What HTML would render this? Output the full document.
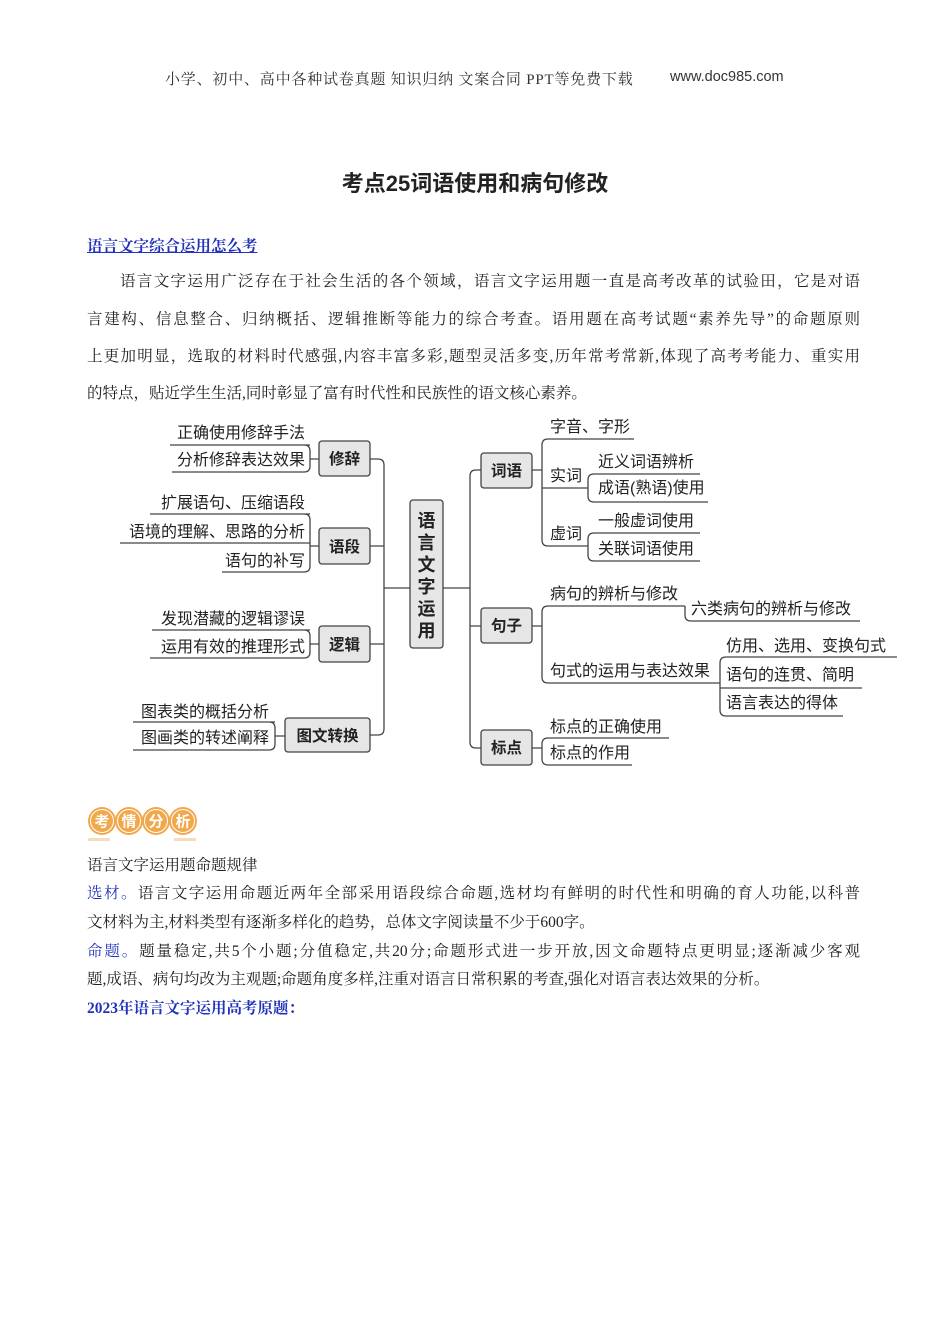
<!DOCTYPE html>
<html><head><meta charset="utf-8">
<style>
body{margin:0;background:#fff;}
#p{position:relative;width:950px;height:1344px;overflow:hidden;font-family:"Liberation Serif","Noto Serif CJK SC","Noto Sans CJK SC",serif;color:#222;}
.a{position:absolute;white-space:nowrap;}
.ln{position:absolute;left:87px;width:773px;font-size:15.5px;text-align:justify;text-align-last:justify;white-space:nowrap;}
.bl{color:#2233bb;}
svg text{font-family:"Liberation Sans","Noto Sans CJK SC",sans-serif;}
</style></head><body><div id="p">
<div class="a" style="left:165px;top:68px;font-size:15px;letter-spacing:0.8px;color:#333;">小学、初中、高中各种试卷真题&nbsp;知识归纳&nbsp;文案合同&nbsp;PPT等免费下载</div>
<div class="a" style="left:670px;top:69px;font-size:14.5px;color:#333;font-family:'Liberation Sans',sans-serif;">www.doc985.com</div>
<div class="a" style="left:0;width:950px;text-align:center;top:166px;font-size:22px;font-weight:bold;font-family:'Liberation Sans','Noto Sans CJK SC',sans-serif;">考点25词语使用和病句修改</div>
<div class="a bl" style="left:87px;top:234px;font-size:15.5px;font-weight:bold;text-decoration:underline;">语言文字综合运用怎么考</div>
<div class="ln" style="top:269px;left:120px;width:740px;">语言文字运用广泛存在于社会生活的各个领域，语言文字运用题一直是高考改革的试验田，它是对语</div>
<div class="ln" style="top:307px;">言建构、信息整合、归纳概括、逻辑推断等能力的综合考查。语用题在高考试题“素养先导”的命题原则</div>
<div class="ln" style="top:344px;">上更加明显，选取的材料时代感强,内容丰富多彩,题型灵活多变,历年常考常新,体现了高考考能力、重实用</div>
<div class="a" style="left:87px;top:381px;font-size:15.5px;">的特点，贴近学生生活,同时彰显了富有时代性和民族性的语文核心素养。</div>

<svg class="a" style="left:0;top:0" width="950" height="860" viewBox="0 0 950 860">
<g fill="none" stroke="#444" stroke-width="1.3">
<path d="M170 445H310M172 472H304Q310 472 310 466V451Q310 445 304 445M310 459H319"/>
<path d="M150 514H310M120 543H310M222 572H304Q310 572 310 566V520Q310 514 304 514M310 546H319"/>
<path d="M152 630H310M150 658H304Q310 658 310 652V636Q310 630 304 630M310 644H319"/>
<path d="M133 722H275M133 750H269Q275 750 275 744V728Q275 722 269 722M275 736H285"/>
<path d="M370 459H378Q384 459 384 465V729Q384 735 378 735H370M370 546H384M370 644H384M384 588H410"/>
<path d="M443 588H470M481 470H476Q470 470 470 476V742Q470 748 476 748H481M470 626H481"/>
<path d="M532 470H542M634 439H548Q542 439 542 445V540Q542 546 548 546H588M542 488H588"/>
<path d="M700 474H594Q588 474 588 480V496Q588 502 594 502H708"/>
<path d="M700 533H594Q588 533 588 539V555Q588 561 594 561H700"/>
<path d="M532 626H542M685 606H548Q542 606 542 612V677Q542 683 548 683H720"/>
<path d="M685 606V615Q685 621 691 621H860"/>
<path d="M897 657H726Q720 657 720 663V710Q720 716 726 716H843M720 688H862"/>
<path d="M532 748H542M669 738H548Q542 738 542 744V759Q542 765 548 765H632"/>
</g>
<g fill="#e6e6e6" stroke="#444" stroke-width="1.3">
<rect x="319" y="441" width="51" height="35" rx="3"/>
<rect x="319" y="528" width="51" height="36" rx="3"/>
<rect x="319" y="626" width="51" height="36" rx="3"/>
<rect x="285" y="718" width="85" height="34" rx="3"/>
<rect x="410" y="500" width="33" height="148" rx="3"/>
<rect x="481" y="453" width="51" height="35" rx="3"/>
<rect x="481" y="608" width="51" height="35" rx="3"/>
<rect x="481" y="730" width="51" height="35" rx="3"/>
</g>
<g font-size="15.5" font-weight="bold" fill="#222" text-anchor="middle">
<text x="344.5" y="464">修辞</text><text x="344.5" y="552">语段</text><text x="344.5" y="650">逻辑</text><text x="327.5" y="741">图文转换</text>
<text x="506.5" y="476">词语</text><text x="506.5" y="631">句子</text><text x="506.5" y="753">标点</text>
<g font-size="18"><text x="426.5" y="527">语</text><text x="426.5" y="549">言</text><text x="426.5" y="571">文</text><text x="426.5" y="593">字</text><text x="426.5" y="615">运</text><text x="426.5" y="637">用</text></g>
</g>
<g font-size="16" fill="#222" text-anchor="end">
<text x="305" y="438">正确使用修辞手法</text><text x="305" y="465">分析修辞表达效果</text>
<text x="305" y="508">扩展语句、压缩语段</text><text x="305" y="537">语境的理解、思路的分析</text><text x="305" y="566">语句的补写</text>
<text x="305" y="624">发现潜藏的逻辑谬误</text><text x="305" y="652">运用有效的推理形式</text>
<text x="269" y="717">图表类的概括分析</text><text x="269" y="743">图画类的转述阐释</text>
</g>
<g font-size="16" fill="#222">
<text x="550" y="432">字音、字形</text><text x="550" y="481">实词</text><text x="598" y="467">近义词语辨析</text><text x="598" y="493">成语(熟语)使用</text>
<text x="550" y="539">虚词</text><text x="598" y="526">一般虚词使用</text><text x="598" y="554">关联词语使用</text>
<text x="550" y="599">病句的辨析与修改</text><text x="691" y="614">六类病句的辨析与修改</text>
<text x="550" y="676">句式的运用与表达效果</text><text x="726" y="651">仿用、选用、变换句式</text><text x="726" y="680">语句的连贯、简明</text><text x="726" y="708">语言表达的得体</text>
<text x="550" y="732">标点的正确使用</text><text x="550" y="758">标点的作用</text>
</g>
<g font-size="15" font-weight="bold" text-anchor="middle">
<circle cx="102" cy="821" r="14" fill="#f1a84a"/><circle cx="129" cy="821" r="14" fill="#f1a84a"/><circle cx="156" cy="821" r="14" fill="#f1a84a"/><circle cx="183" cy="821" r="14" fill="#f1a84a"/>
<g fill="none" stroke="#fff" stroke-width="1"><circle cx="102" cy="821" r="11.5"/><circle cx="129" cy="821" r="11.5"/><circle cx="156" cy="821" r="11.5"/><circle cx="183" cy="821" r="11.5"/></g>
<g fill="#fff"><text x="102" y="826.5">考</text><text x="129" y="826.5">情</text><text x="156" y="826.5">分</text><text x="183" y="826.5">析</text></g>
<rect x="88" y="838" width="22" height="3" fill="#f3dcc0"/><rect x="174" y="838" width="22" height="3" fill="#f3dcc0"/>
</g>
</svg>

<div class="a" style="left:87px;top:853px;font-size:15.5px;">语言文字运用题命题规律</div>
<div class="ln" style="top:881px;"><span class="bl">选材。</span>语言文字运用命题近两年全部采用语段综合命题,选材均有鲜明的时代性和明确的育人功能,以科普</div>
<div class="a" style="left:87px;top:910px;font-size:15.5px;">文材料为主,材料类型有逐渐多样化的趋势，总体文字阅读量不少于600字。</div>
<div class="ln" style="top:939px;"><span class="bl">命题。</span>题量稳定,共5个小题;分值稳定,共20分;命题形式进一步开放,因文命题特点更明显;逐渐减少客观</div>
<div class="a" style="left:87px;top:967px;font-size:15.5px;">题,成语、病句均改为主观题;命题角度多样,注重对语言日常积累的考查,强化对语言表达效果的分析。</div>
<div class="a bl" style="left:87px;top:996px;font-size:15.5px;font-weight:bold;">2023年语言文字运用高考原题：</div>
</div></body></html>
